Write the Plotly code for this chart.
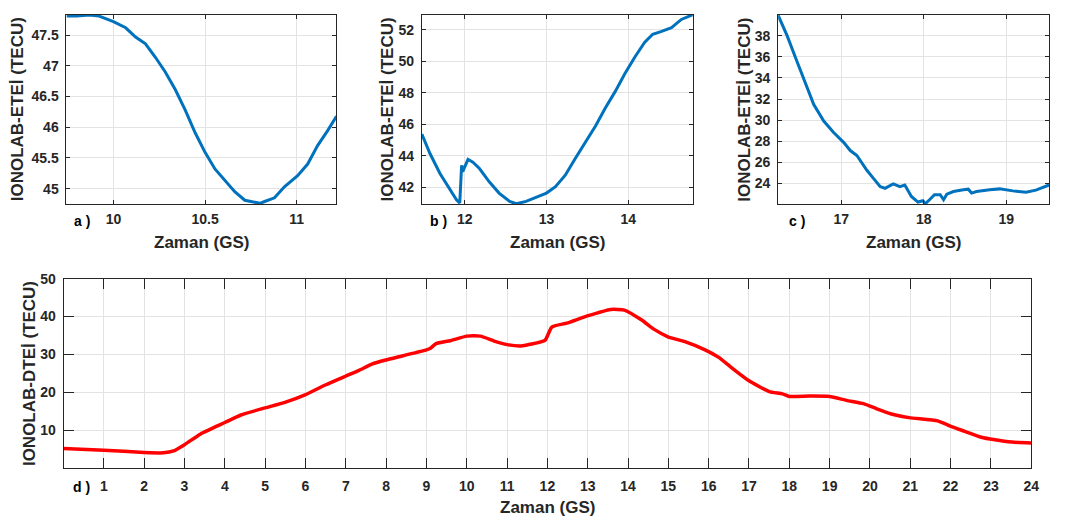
import plotly.graph_objects as go

# ---- Panel a data ----
a_x = [9.744, 9.80, 9.868, 9.922, 10.0, 10.067, 10.121, 10.175, 10.229, 10.283, 10.338, 10.392,
       10.446, 10.5, 10.554, 10.608, 10.662, 10.717, 10.771, 10.80, 10.825, 10.879, 10.933,
       11.005, 11.06, 11.114, 11.168, 11.217]
a_y = [47.81, 47.81, 47.83, 47.81, 47.72, 47.62, 47.47, 47.36, 47.14, 46.90, 46.61, 46.28,
       45.91, 45.59, 45.32, 45.13, 44.95, 44.81, 44.77, 44.76, 44.79, 44.85, 45.03,
       45.21, 45.40, 45.70, 45.94, 46.18]

# ---- Panel b data ----
b_x = [11.475, 11.576, 11.697, 11.818, 11.899, 11.939, 11.955, 11.962, 11.975, 11.99, 12.04,
       12.10, 12.18, 12.30, 12.42, 12.55, 12.63, 12.75, 12.87, 13.0, 13.11, 13.23, 13.35,
       13.47, 13.60, 13.72, 13.84, 13.96, 14.08, 14.20, 14.30, 14.40, 14.53, 14.65, 14.79]
b_y = [45.38, 44.13, 42.88, 41.83, 41.21, 41.00, 42.6, 43.4, 43.0, 43.2, 43.77,
       43.60, 43.19, 42.35, 41.63, 41.10, 40.95, 41.10, 41.35, 41.63, 42.04, 42.77, 43.81,
       44.85, 45.90, 47.04, 48.08, 49.23, 50.27, 51.21, 51.73, 51.90, 52.15, 52.67, 52.97]

# ---- Panel c data ----
c_x = [16.234, 16.344, 16.465, 16.585, 16.666, 16.787, 16.907, 17.028, 17.109, 17.189, 17.31,
       17.39, 17.47, 17.53, 17.63, 17.71, 17.77, 17.85, 17.93, 17.99, 18.02, 18.07, 18.13,
       18.20, 18.24, 18.28, 18.36, 18.48, 18.54, 18.58, 18.64, 18.80, 18.92, 19.08, 19.24,
       19.36, 19.52]
c_y = [39.96, 38.0, 35.51, 33.18, 31.47, 29.91, 28.82, 27.89, 27.11, 26.64, 25.24,
       24.47, 23.69, 23.53, 23.94, 23.69, 23.84, 22.75, 22.22, 22.35, 22.07, 22.44, 22.91,
       22.91, 22.44, 22.97, 23.22, 23.38, 23.44, 23.07, 23.22, 23.38, 23.47, 23.28, 23.16,
       23.35, 23.84]

# ---- Panel d data ----
d_x = [0.0, 1.0, 2.0, 2.48, 2.73, 3.0, 3.40, 4.0, 4.40, 5.0, 5.49, 5.99, 6.49, 6.99, 7.33,
       7.66, 7.99, 8.42, 9.0, 9.09, 9.24, 9.59, 10.0, 10.34, 10.68, 11.0, 11.35, 11.57, 11.94,
       12.11, 12.48, 12.99, 13.57, 13.91, 14.33, 14.66, 14.99, 15.41, 15.91, 16.25, 16.58,
       17.0, 17.5, 17.83, 18.0, 18.5, 19.0, 19.42, 19.84, 20.17, 20.51, 20.97, 21.68, 22.01,
       22.35, 22.76, 23.1, 23.52, 24.0]
d_y = [5.09, 4.66, 4.05, 3.97, 4.48, 6.12, 8.97, 11.98, 13.97, 15.86, 17.33, 19.31, 21.9,
       24.22, 25.78, 27.5, 28.53, 29.66, 31.21, 31.55, 32.84, 33.62, 34.83, 34.83, 33.53,
       32.59, 32.24, 32.67, 33.71, 37.24, 38.28, 40.17, 41.9, 41.72, 39.14, 36.55, 34.66,
       33.36, 31.21, 29.22, 26.38, 23.02, 20.17, 19.57, 18.88, 18.97, 18.88, 17.84, 16.98,
       15.6, 14.31, 13.28, 12.41, 10.95, 9.66, 8.1, 7.41, 6.81, 6.55]

a_xticks = [10, 10.5, 11]
a_yticks = [45, 45.5, 46, 46.5, 47, 47.5]
b_xticks = [12, 13, 14]
b_yticks = [42, 44, 46, 48, 50, 52]
c_xticks = [17, 18, 19]
c_yticks = [24, 26, 28, 30, 32, 34, 36, 38]
d_xticks = list(range(1, 25))
d_yticks = [10, 20, 30, 40, 50]

W, H = 1070, 521
BLUE = "#0072BD"
RED = "#FF0000"
AX = "#262626"
GRID = "#e3e3e3"
FONT = "Liberation Sans, Arial, sans-serif"

def px(x):
    return x / W

def py(y):
    return 1 - y / H

fig = go.Figure()
fig.add_trace(go.Scatter(x=a_x, y=a_y, mode="lines", line=dict(color=BLUE, width=3), xaxis="x", yaxis="y"))
fig.add_trace(go.Scatter(x=b_x, y=b_y, mode="lines", line=dict(color=BLUE, width=3), xaxis="x2", yaxis="y2"))
fig.add_trace(go.Scatter(x=c_x, y=c_y, mode="lines", line=dict(color=BLUE, width=3), xaxis="x3", yaxis="y3"))
fig.add_trace(go.Scatter(x=d_x, y=d_y, mode="lines", line=dict(color=RED, width=3.5, shape="spline", smoothing=0.5),
                         xaxis="x4", yaxis="y4"))

tickfont = dict(family=FONT, size=14, color=AX, weight="bold")

def axis_common(ticklen):
    return dict(showline=True, linecolor=AX, linewidth=1, mirror="ticks", ticks="inside",
                ticklen=ticklen, tickcolor=AX, tickwidth=1, showgrid=True, gridcolor=GRID,
                gridwidth=1, zeroline=False, tickfont=tickfont, fixedrange=True)

top_y = py(199), py(7)
panels = [
    ("", (67, 339), top_y, (9.744, 11.217), (44.75, 47.83), a_xticks, a_yticks, 4, 2),
    ("2", (425, 698), top_y, (11.475, 14.79), (40.94, 52.96), b_xticks, b_yticks, 4, 2),
    ("3", (784, 1057), top_y, (16.234, 19.52), (22.04, 39.99), c_xticks, c_yticks, 4, 2),
    ("4", (64, 1039), (py(467), py(275)), (0, 24), (0, 50), d_xticks, d_yticks, 10, 5),
]
layout = {}
for suf, (x0, x1), ydom, xr, yr, xt, yt, tl, so in panels:
    xa = axis_common(tl)
    xa.update(domain=[px(x0), px(x1)], range=list(xr), tickvals=xt, anchor="y" + suf,
              ticklabelstandoff=so)
    ya = axis_common(tl)
    ya.update(domain=list(ydom), range=list(yr), tickvals=yt, anchor="x" + suf,
              ticklabelstandoff=4)
    layout["xaxis" + suf] = xa
    layout["yaxis" + suf] = ya

titlefont = dict(family=FONT, size=17, color=AX)
annos = []
# x titles
for cx in [(67 + 339) / 2, (425 + 698) / 2, (784 + 1057) / 2]:
    annos.append(dict(text="<b>Zaman (GS)</b>", x=px(cx), y=py(238), xref="paper", yref="paper",
                      showarrow=False, font=titlefont, xanchor="center", yanchor="middle"))
annos.append(dict(text="<b>Zaman (GS)</b>", x=px((64 + 1039) / 2), y=py(507), xref="paper", yref="paper",
                  showarrow=False, font=titlefont, xanchor="center", yanchor="middle"))
# y titles
for cx in [18, 390, 750]:
    annos.append(dict(text="<b>IONOLAB-ETEİ (TECU)</b>", x=px(cx), y=py(103), xref="paper", yref="paper",
                      showarrow=False, font=titlefont, textangle=-90, xanchor="center", yanchor="middle"))
annos.append(dict(text="<b>IONOLAB-DTEİ (TECU)</b>", x=px(30), y=py(371), xref="paper", yref="paper",
                  showarrow=False, font=titlefont, textangle=-90, xanchor="center", yanchor="middle"))
# panel letters
for lab, cx, cy in [("a )", 83, 216), ("b )", 442, 216), ("c )", 803, 216), ("d )", 82, 486)]:
    annos.append(dict(text="<b>" + lab + "</b>", x=px(cx), y=py(cy), xref="paper", yref="paper",
                      showarrow=False, font=dict(family=FONT, size=14, color="black"),
                      xanchor="center", yanchor="middle"))

fig.update_layout(
    width=W, height=H, margin=dict(l=0, r=0, t=0, b=0),
    paper_bgcolor="white", plot_bgcolor="white", showlegend=False,
    font=dict(family=FONT, size=14, color=AX),
    annotations=annos, **layout)

fig.write_html("out.html")
